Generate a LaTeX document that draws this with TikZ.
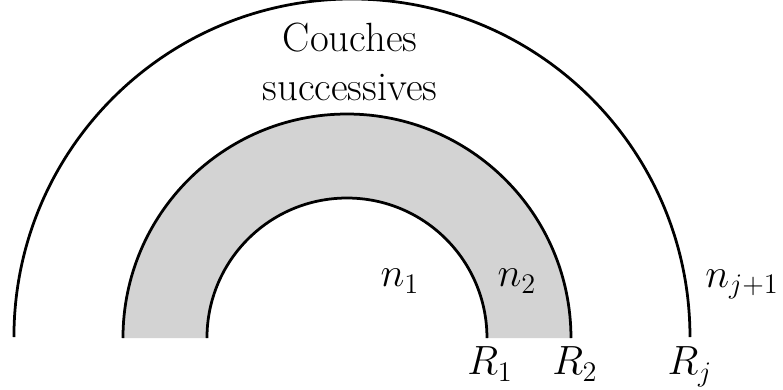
\documentclass[tikz,border=0pt]{standalone}
\definecolor{layergray}{HTML}{D3D3D3}
\usepackage{tikz}
\usetikzlibrary{positioning}

\begin{document}
\begin{tikzpicture}[
  ring/.style={line width=1.4pt},
  lbl/.style={font=\huge, anchor=base, inner sep=0pt},
]
  \useasboundingbox (-6.196,-0.911) rectangle (7.786,6.036);
  % couche grisee entre R1 et R2
  \fill[layergray] (2.5,0) arc (0:180:2.5) -- (-4,0) arc (180:0:4) -- cycle;
  \draw[ring] (2.5,0) arc (0:180:2.5);
  \draw[ring] (4,0) arc (0:180:4);
  \draw[ring] (6.125,0.018) arc (0:180:6.036);

  \node[font=\huge, align=center] (couches) at (0.054,4.93) {Couches\\successives};

  \node[lbl] (n1) at (0.946,0.911) {$n_1$};
  \node[lbl] (n2) at (3.036,0.911) {$n_2$};
  \node[lbl] (nj) at (7.054,0.9) {$n_{j+1}$};

  \node[lbl] (R1) at (2.554,-0.66) {$R_1$};
  \node[lbl] (R2) at (4.07,-0.66) {$R_2$};
  \node[lbl] (Rj) at (6.125,-0.66) {$R_j$};
\end{tikzpicture}
\end{document}
